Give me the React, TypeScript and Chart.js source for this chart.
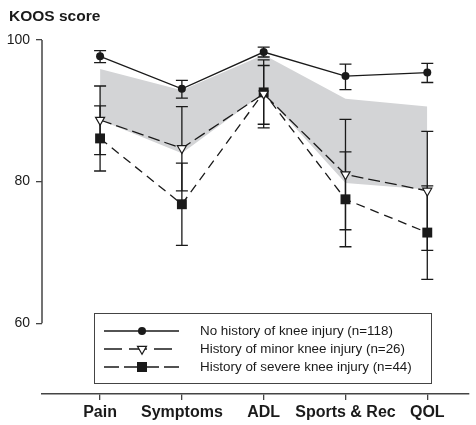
import React, { useEffect, useRef } from "react";
import { Chart, registerables } from "chart.js";

Chart.register(...registerables);

const categories = ["Pain", "Symptoms", "ADL", "Sports & Rec", "QOL"];
const yTickValues = [60, 80, 100];

const noHistory = [97.7, 93.1, 98.3, 94.9, 95.4];
const noHistoryLow = [96.8, 91.8, 97.6, 93.0, 94.0];
const noHistoryHigh = [98.5, 94.3, 99.0, 96.6, 96.7];

const minorInjury = [88.7, 84.7, 92.4, 81.0, 78.7];
const minorLow = [83.8, 78.7, 88.1, 73.2, 70.3];
const minorHigh = [93.5, 90.6, 96.4, 88.8, 87.1];

const severeInjury = [86.1, 76.8, 92.6, 77.5, 72.8];
const severeLow = [81.5, 71.0, 87.6, 70.8, 66.2];
const severeHigh = [90.7, 82.6, 97.2, 84.2, 79.4];

const refUpper = [95.9, 92.9, 97.9, 91.7, 90.6];
const refLower = [88.7, 84.0, 92.5, 79.8, 78.9];

const legendLabels = [
  "No history of knee injury (n=118)",
  "History of minor knee injury (n=26)",
  "History of severe knee injury (n=44)",
];

const FONT = '"Liberation Sans", Arial, Helvetica, sans-serif';
const INK = "#1a1a1a";
const AXIS = "#444444";

const toXY = (arr: number[]) => arr.map((v, i) => ({ x: i, y: v }));

const errorSets = [
  { low: noHistoryLow, high: noHistoryHigh },
  { low: minorLow, high: minorHigh },
  { low: severeLow, high: severeHigh },
];

const decorPlugin = {
  id: "decor",
  beforeDatasetsDraw(chart: any) {
    const { ctx, scales } = chart;
    const x = scales.x;
    const y = scales.y;
    ctx.save();
    ctx.strokeStyle = INK;
    ctx.lineWidth = 1.3;
    ctx.setLineDash([]);
    errorSets.forEach(({ low, high }) => {
      low.forEach((lo, i) => {
        const px = x.getPixelForValue(i);
        const pl = y.getPixelForValue(lo);
        const ph = y.getPixelForValue(high[i]);
        ctx.beginPath();
        ctx.moveTo(px, ph);
        ctx.lineTo(px, pl);
        ctx.moveTo(px - 6, ph);
        ctx.lineTo(px + 6, ph);
        ctx.moveTo(px - 6, pl);
        ctx.lineTo(px + 6, pl);
        ctx.stroke();
      });
    });
    ctx.restore();
  },
  afterDraw(chart: any) {
    const { ctx, scales, chartArea } = chart;
    const y = scales.y;
    ctx.save();
    // y axis line (60..100)
    ctx.strokeStyle = AXIS;
    ctx.lineWidth = 1.5;
    ctx.beginPath();
    ctx.moveTo(chartArea.left, y.getPixelForValue(yTickValues[0]));
    ctx.lineTo(chartArea.left, y.getPixelForValue(yTickValues[yTickValues.length - 1]));
    ctx.stroke();

    // title
    ctx.fillStyle = INK;
    ctx.font = `bold 15.5px ${FONT}`;
    ctx.textAlign = "left";
    ctx.textBaseline = "alphabetic";
    ctx.fillText("KOOS score", 9, 21);

    // legend box
    const bx = 94, by = 313, bw = 337, bh = 70;
    ctx.fillStyle = "#ffffff";
    ctx.fillRect(bx, by, bw, bh);
    ctx.strokeStyle = AXIS;
    ctx.lineWidth = 1;
    ctx.strokeRect(bx + 0.5, by + 0.5, bw, bh);

    const rows = [331, 349, 367];
    const dashes = [[], [18, 7], [15, 5]];
    const sx0 = 104, sx1 = 179, mx = 142;
    rows.forEach((ry, k) => {
      ctx.strokeStyle = INK;
      ctx.lineWidth = 1.3;
      ctx.setLineDash(dashes[k]);
      ctx.beginPath();
      ctx.moveTo(sx0, ry);
      ctx.lineTo(sx1, ry);
      ctx.stroke();
      ctx.setLineDash([]);
      ctx.beginPath();
      if (k === 0) {
        ctx.fillStyle = INK;
        ctx.arc(mx, ry, 4, 0, Math.PI * 2);
        ctx.fill();
      } else if (k === 1) {
        const r = 5.2;
        ctx.fillStyle = "#ffffff";
        ctx.moveTo(mx, ry + r);
        ctx.lineTo(mx - r * 0.866, ry - r / 2);
        ctx.lineTo(mx + r * 0.866, ry - r / 2);
        ctx.closePath();
        ctx.fill();
        ctx.lineWidth = 1.2;
        ctx.stroke();
      } else {
        ctx.fillStyle = INK;
        ctx.fillRect(mx - 5, ry - 5, 10, 10);
      }
      ctx.fillStyle = INK;
      ctx.font = `13.4px ${FONT}`;
      ctx.textAlign = "left";
      ctx.textBaseline = "middle";
      ctx.fillText(legendLabels[k], 200, ry);
    });
    ctx.restore();
  },
};

export default function App() {
  const canvasRef = useRef<HTMLCanvasElement | null>(null);

  useEffect(() => {
    if (!canvasRef.current) return;
    const chart = new Chart(canvasRef.current, {
      type: "line",
      data: {
        datasets: [
          {
            label: legendLabels[0],
            data: toXY(noHistory),
            borderColor: INK,
            borderWidth: 1.3,
            pointStyle: "circle",
            pointRadius: 4,
            pointBackgroundColor: INK,
            pointBorderColor: INK,
            pointBorderWidth: 0,
            fill: false,
            tension: 0,
          },
          {
            label: legendLabels[1],
            data: toXY(minorInjury),
            borderColor: INK,
            borderWidth: 1.3,
            borderDash: [12, 5],
            pointStyle: "triangle",
            pointRotation: 180,
            pointRadius: 5.2,
            pointBackgroundColor: "#ffffff",
            pointBorderColor: INK,
            pointBorderWidth: 1.2,
            fill: false,
            tension: 0,
          },
          {
            label: legendLabels[2],
            data: toXY(severeInjury),
            borderColor: INK,
            borderWidth: 1.3,
            borderDash: [9, 6],
            pointStyle: "rect",
            pointRadius: 7,
            pointBackgroundColor: INK,
            pointBorderColor: INK,
            pointBorderWidth: 0,
            fill: false,
            tension: 0,
          },
          {
            label: "ref lower",
            data: toXY(refLower),
            borderWidth: 0,
            borderColor: "rgba(0,0,0,0)",
            pointRadius: 0,
            fill: false,
            tension: 0,
          },
          {
            label: "ref upper",
            data: toXY(refUpper),
            borderWidth: 0,
            borderColor: "rgba(0,0,0,0)",
            backgroundColor: "#d3d4d6",
            pointRadius: 0,
            fill: "-1",
            tension: 0,
          },
        ],
      },
      options: {
        animation: false,
        responsive: true,
        maintainAspectRatio: false,
        layout: { padding: { top: 40, left: 0, right: 0, bottom: 0 } },
        plugins: {
          legend: { display: false },
          title: { display: false },
          tooltip: { enabled: false },
          filler: { drawTime: "beforeDatasetsDraw" },
        } as any,
        scales: {
          x: {
            type: "linear",
            min: -0.71,
            max: 4.51,
            afterBuildTicks: (scale: any) => {
              scale.ticks = categories.map((_, i) => ({ value: i }));
            },
            afterFit: (scale: any) => {
              scale.height = 31;
            },
            ticks: {
              callback: (v: any) => categories[v as number] ?? "",
              color: INK,
              font: { family: FONT, size: 16, weight: "bold" },
              padding: 3,
              maxRotation: 0,
              autoSkip: false,
            },
            grid: {
              display: true,
              drawOnChartArea: false,
              drawTicks: true,
              tickLength: 6,
              color: AXIS,
              lineWidth: 1.3,
            },
            border: { display: true, color: AXIS, width: 1.5 },
          },
          y: {
            type: "linear",
            min: 50,
            max: 100,
            afterBuildTicks: (scale: any) => {
              scale.ticks = yTickValues.map((value) => ({ value }));
            },
            afterFit: (scale: any) => {
              scale.width = 42;
            },
            ticks: {
              color: INK,
              font: { family: FONT, size: 14 },
              padding: 6,
            },
            grid: {
              display: true,
              drawOnChartArea: false,
              drawTicks: true,
              tickLength: 6,
              color: AXIS,
              lineWidth: 1.3,
            },
            border: { display: false },
          },
        },
      } as any,
      plugins: [decorPlugin as any],
    });
    return () => chart.destroy();
  }, []);

  return (
    <div style={{ position: "absolute", left: 0, top: 0, width: 476, height: 425, background: "#fff" }}>
      <canvas ref={canvasRef} />
    </div>
  );
}
